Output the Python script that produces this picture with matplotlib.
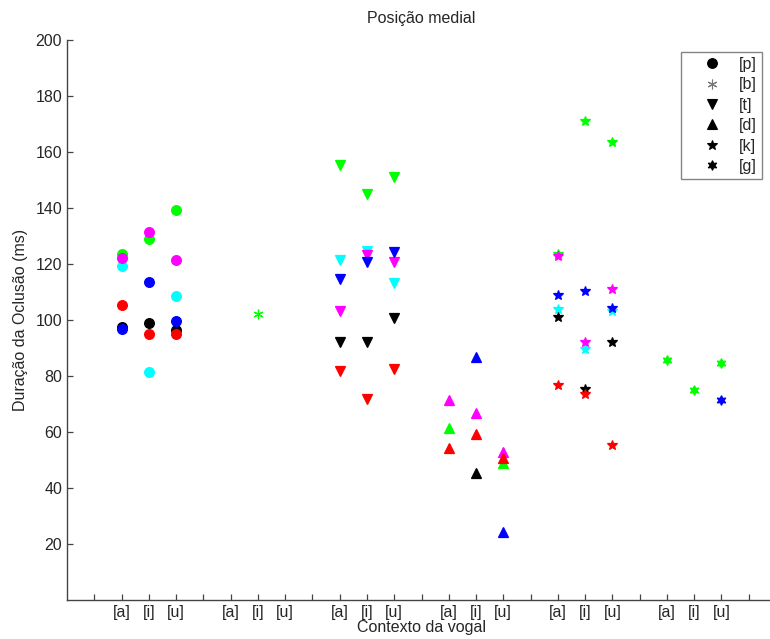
import numpy as np
import matplotlib
matplotlib.use('Agg')
import matplotlib.pyplot as plt
from matplotlib.lines import Line2D

nan = np.nan

vowels = ['[a]', '[i]', '[u]']
consonants = ['[p]', '[b]', '[t]', '[d]', '[k]', '[g]']

# rows: speakers, in drawing order (green first, blue on top)
speakers = ['green', 'cyan', 'magenta', 'black', 'red', 'blue']
speaker_colors = ['#00ff00', '#00ffff', '#ff00ff', '#000000', '#ff0000', '#0000ff']

# duration (ms) per speaker for [a], [i], [u]
dur_p = [[123.6, 129.0, 139.3],
         [119.2, 81.3, 108.7],
         [122.3, 131.3, 121.4],
         [97.6, 98.8, 96.4],
         [105.2, 94.9, 95.0],
         [96.7, 113.6, 99.8]]
dur_b = [[nan, 102.0, nan],
         [nan, nan, nan],
         [nan, nan, nan],
         [nan, nan, nan],
         [nan, nan, nan],
         [nan, nan, nan]]
dur_t = [[155.4, 144.9, 151.2],
         [121.4, 124.8, 113.1],
         [103.3, 123.2, 120.8],
         [92.3, 92.3, 100.8],
         [81.8, 71.7, 82.4],
         [114.5, 120.8, 124.3]]
dur_d = [[61.5, nan, 48.8],
         [nan, nan, nan],
         [71.4, 66.7, 52.7],
         [nan, 45.2, nan],
         [54.2, 59.3, 50.6],
         [nan, 86.7, 24.4]]
dur_k = [[123.5, 171.2, 163.6],
         [103.9, 89.8, 103.3],
         [123.0, 92.0, 111.2],
         [101.1, 75.5, 92.1],
         [76.8, 73.5, 55.5],
         [108.8, 110.5, 104.4]]
dur_g = [[85.7, 74.9, 84.5],
         [nan, nan, nan],
         [nan, nan, nan],
         [nan, nan, nan],
         [nan, nan, nan],
         [nan, nan, 71.3]]

durations = [dur_p, dur_b, dur_t, dur_d, dur_k, dur_g]

markers = ['o', (6, 2, 0), 'v', '^', '*', (6, 1, 0)]
msizes = [7, 7, 7, 7, 7.5, 7]

FS = 11.5
plt.rcParams['font.family'] = ['Liberation Sans', 'DejaVu Sans']
plt.rcParams['font.size'] = FS
text_color = '#262626'
axis_color = '#444444'

fig = plt.figure(figsize=(7.7, 6.39), dpi=100)
ax = fig.add_axes([67 / 770, 1 - 600 / 639, 709 / 770, 560 / 639])

for ci, vals in enumerate(durations):
    vals = np.array(vals)
    xs = 4 * ci + 2 + np.arange(len(vowels))
    for si, color in enumerate(speaker_colors):
        ax.plot(xs, vals[si], linestyle='none', marker=markers[ci],
                markersize=msizes[ci], color=color, markeredgecolor=color,
                markeredgewidth=0.9)

ax.set_xlim(0, 26)
ax.set_ylim(0, 200)
ax.set_yticks(np.arange(20, 201, 20))

ticks = np.arange(1, 26)
labels = [''] * len(ticks)
for ci in range(len(consonants)):
    for vi, v in enumerate(vowels):
        labels[4 * ci + 1 + vi] = v
ax.set_xticks(ticks)
ax.set_xticklabels(labels)

for side in ['top', 'right']:
    ax.spines[side].set_visible(False)
for side in ['left', 'bottom']:
    ax.spines[side].set_color(axis_color)
    ax.spines[side].set_linewidth(1.0)
ax.tick_params(direction='in', length=4, width=0.9, color=axis_color,
               labelcolor=text_color, pad=3.5)

ax.set_title('Posição medial', color=text_color, fontsize=FS, pad=12)
ax.set_xlabel('Contexto da vogal', color=text_color, labelpad=0)
ax.set_ylabel('Duração da Oclusão (ms)', color=text_color, labelpad=5)

handles = []
for ci, name in enumerate(consonants):
    c = '#777777' if ci == 1 else 'black'
    handles.append(Line2D([], [], linestyle='none', marker=markers[ci],
                          markersize=msizes[ci], color=c,
                          markeredgecolor=c, markeredgewidth=0.8, label=name))
leg = fig.legend(handles=handles, loc='upper right',
                 bbox_to_anchor=(762 / 770, 1 - 52 / 639),
                 bbox_transform=fig.transFigure, borderaxespad=0,
                 frameon=True, fancybox=False, labelspacing=0.34,
                 handlelength=3.3, handletextpad=0.05, borderpad=0.3,
                 fontsize=FS)
leg.get_frame().set_edgecolor('#666666')
leg.get_frame().set_linewidth(1.0)
for t in leg.get_texts():
    t.set_color(text_color)

fig.savefig('out.png', dpi=100)
